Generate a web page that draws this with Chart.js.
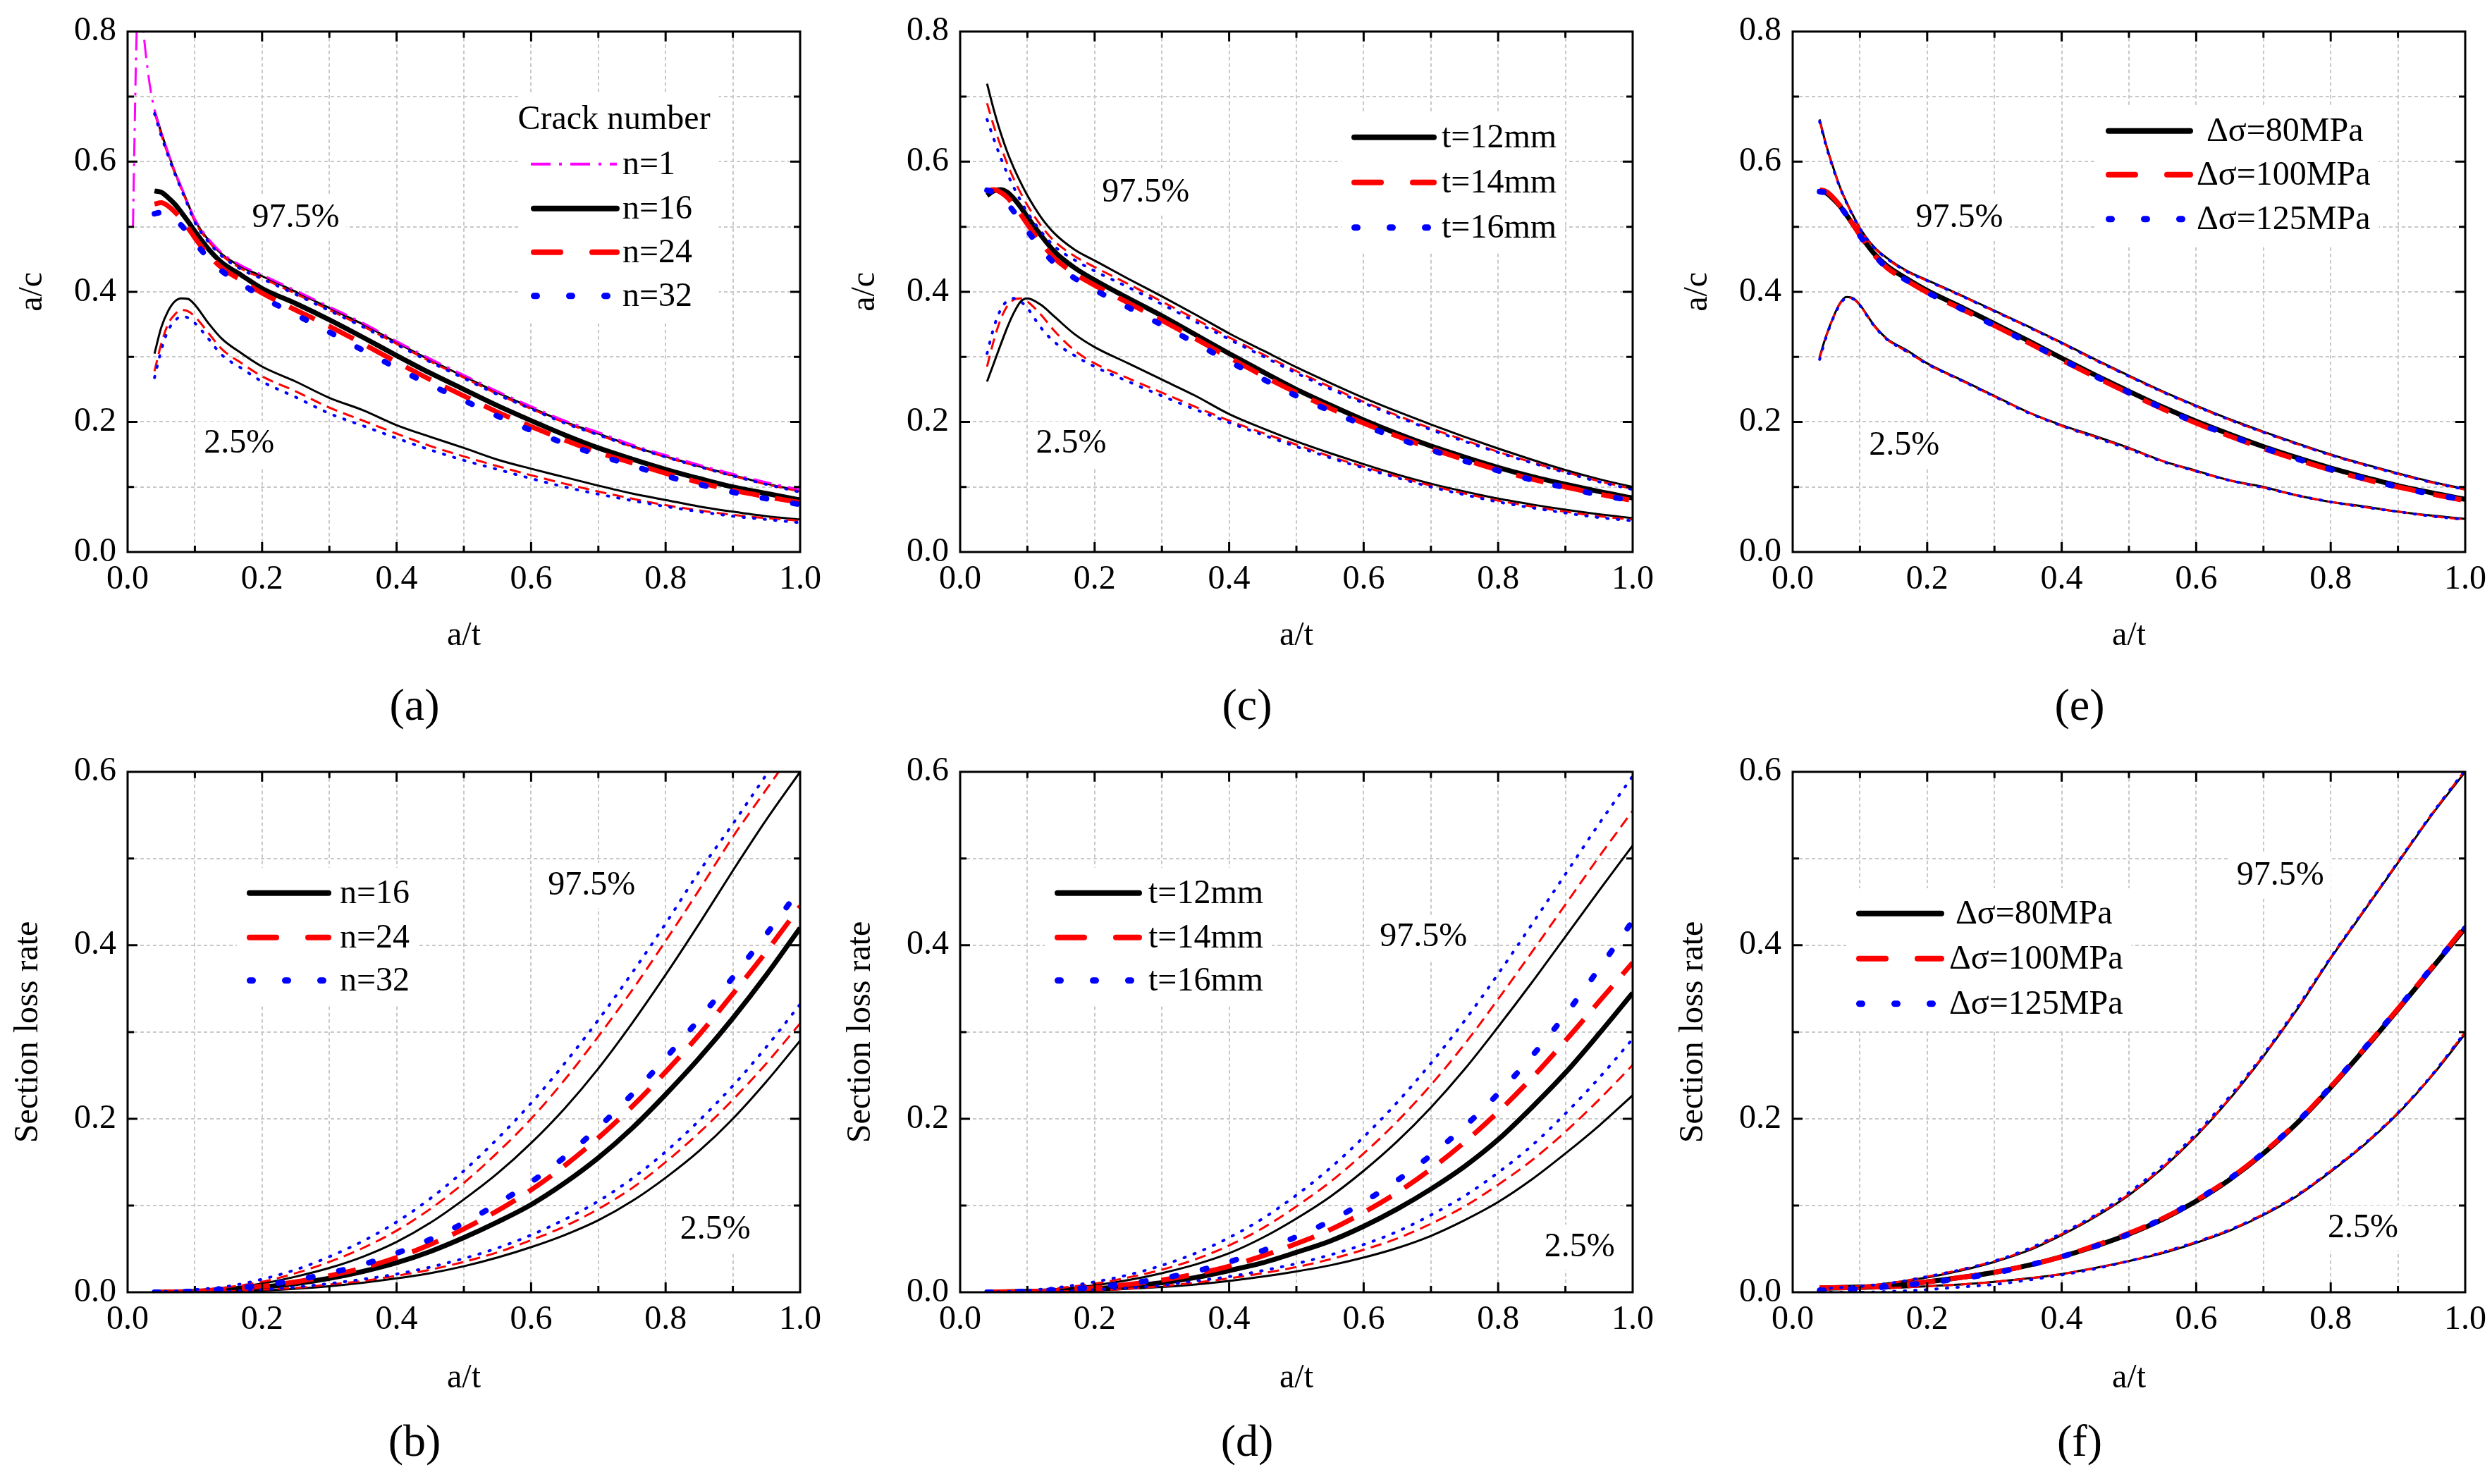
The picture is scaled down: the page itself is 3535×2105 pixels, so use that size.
<!DOCTYPE html>
<html>
<head>
<meta charset="utf-8">
<script src="https://cdn.jsdelivr.net/npm/chart.js@4"></script>
<style>
  body { margin: 0; background: #fff; }
  #page { position: relative; width: 3535px; height: 2105px; background: #fff; }
  canvas { position: absolute; }
  .tag { position: absolute; font-family: "Liberation Serif", "Times New Roman", serif; font-size: 64px; line-height: 1; transform: translate(-50%, -50%); color: #000; }
</style>
</head>
<body>
<div id="page">
  <canvas id="pa" width="1181" height="960" style="left:0px;top:0px"></canvas>
  <canvas id="pc" width="1181" height="960" style="left:1181px;top:0px"></canvas>
  <canvas id="pe" width="1181" height="960" style="left:2362px;top:0px"></canvas>
  <canvas id="pb" width="1181" height="960" style="left:0px;top:1050px"></canvas>
  <canvas id="pd" width="1181" height="960" style="left:1181px;top:1050px"></canvas>
  <canvas id="pf" width="1181" height="960" style="left:2362px;top:1050px"></canvas>
  <div class="tag" style="left:588px;top:1000px">(a)</div>
  <div class="tag" style="left:1769px;top:1000px">(c)</div>
  <div class="tag" style="left:2950px;top:1000px">(e)</div>
  <div class="tag" style="left:588px;top:2044px">(b)</div>
  <div class="tag" style="left:1769px;top:2044px">(d)</div>
  <div class="tag" style="left:2950px;top:2044px">(f)</div>
</div>

<script>
// ======================================================
// Data
// ======================================================

// a/t sampling for the a/c panels and for the section loss panels
const XT = [0.04, 0.05, 0.06, 0.07, 0.08, 0.09, 0.10, 0.12, 0.14, 0.17, 0.20, 0.25, 0.30, 0.35, 0.40,
            0.45, 0.50, 0.55, 0.60, 0.65, 0.70, 0.75, 0.80, 0.85, 0.90, 0.95, 1.00];
const XB = [0.04, 0.10, 0.15, 0.20, 0.25, 0.30, 0.35, 0.40, 0.45, 0.50, 0.55, 0.60, 0.65, 0.70, 0.75,
            0.80, 0.85, 0.90, 0.95, 1.00];

// legend labels
const LEG_A = ["n=1", "n=16", "n=24", "n=32"];
const LEG_C = ["t=12mm", "t=14mm", "t=16mm"];
const LEG_E = ["\u0394\u03c3=80MPa", "\u0394\u03c3=100MPa", "\u0394\u03c3=125MPa"];
const LEG_TITLE_A = "Crack number";
const NOTE_HI = "97.5%";
const NOTE_LO = "2.5%";

// ---- (a) a/c, crack number ----
const N1_HX = [0.008, 0.010, 0.013, 0.016, 0.020, 0.025, 0.030, 0.035];
const N1_HY = [0.50, 0.62, 0.78, 0.86, 0.84, 0.785, 0.74, 0.705];
const A_N1 = [0.680, 0.646, 0.615, 0.586, 0.561, 0.536, 0.512, 0.482, 0.460, 0.440, 0.426, 0.402, 0.377, 0.352, 0.324,
              0.297, 0.272, 0.247, 0.224, 0.202, 0.184, 0.165, 0.149, 0.134, 0.120, 0.107, 0.096];
const A_UP_16 = [0.679, 0.645, 0.614, 0.585, 0.560, 0.535, 0.510, 0.480, 0.458, 0.438, 0.424, 0.400, 0.375, 0.350, 0.322,
                 0.295, 0.270, 0.245, 0.222, 0.200, 0.182, 0.163, 0.147, 0.132, 0.118, 0.105, 0.094];
const A_UP_24 = [0.676, 0.642, 0.611, 0.583, 0.558, 0.533, 0.508, 0.478, 0.456, 0.435, 0.421, 0.397, 0.372, 0.347, 0.320,
                 0.293, 0.268, 0.243, 0.220, 0.199, 0.180, 0.162, 0.146, 0.131, 0.117, 0.104, 0.093];
const A_UP_32 = [0.674, 0.640, 0.610, 0.582, 0.557, 0.532, 0.507, 0.477, 0.455, 0.434, 0.420, 0.396, 0.371, 0.346, 0.319,
                 0.292, 0.267, 0.242, 0.220, 0.198, 0.180, 0.162, 0.146, 0.131, 0.117, 0.104, 0.092];
const A_MED_16 = [0.555, 0.553, 0.545, 0.535, 0.522, 0.508, 0.493, 0.466, 0.445, 0.425, 0.405, 0.382, 0.357, 0.330, 0.302,
                  0.275, 0.250, 0.225, 0.202, 0.180, 0.160, 0.143, 0.127, 0.113, 0.100, 0.090, 0.080];
const A_MED_24 = [0.535, 0.537, 0.532, 0.523, 0.512, 0.498, 0.483, 0.457, 0.437, 0.417, 0.398, 0.372, 0.347, 0.320, 0.292,
                  0.265, 0.240, 0.215, 0.193, 0.172, 0.153, 0.137, 0.121, 0.107, 0.095, 0.085, 0.076];
const A_MED_32 = [0.520, 0.522, 0.520, 0.513, 0.502, 0.490, 0.476, 0.452, 0.432, 0.412, 0.392, 0.365, 0.338, 0.310, 0.283,
                  0.257, 0.233, 0.209, 0.187, 0.167, 0.149, 0.133, 0.117, 0.104, 0.092, 0.082, 0.073];
const A_LO_16 = [0.305, 0.345, 0.370, 0.385, 0.390, 0.389, 0.380, 0.352, 0.328, 0.305, 0.285, 0.262, 0.237, 0.218, 0.195,
                 0.177, 0.160, 0.142, 0.128, 0.115, 0.102, 0.090, 0.080, 0.070, 0.062, 0.055, 0.050];
const A_LO_24 = [0.278, 0.320, 0.350, 0.365, 0.372, 0.370, 0.362, 0.337, 0.312, 0.290, 0.270, 0.247, 0.222, 0.202, 0.182,
                 0.163, 0.147, 0.132, 0.118, 0.105, 0.093, 0.082, 0.072, 0.064, 0.057, 0.052, 0.048];
const A_LO_32 = [0.268, 0.310, 0.340, 0.355, 0.362, 0.360, 0.352, 0.328, 0.303, 0.282, 0.262, 0.238, 0.213, 0.194, 0.175,
                 0.157, 0.141, 0.127, 0.113, 0.100, 0.089, 0.079, 0.070, 0.062, 0.055, 0.050, 0.045];

// ---- (c) a/c, plate thickness ----
const C_UP_12 = [0.720, 0.680, 0.645, 0.615, 0.590, 0.568, 0.548, 0.515, 0.490, 0.465, 0.448, 0.420, 0.393, 0.365, 0.336,
                 0.310, 0.284, 0.260, 0.237, 0.216, 0.196, 0.177, 0.159, 0.142, 0.126, 0.112, 0.100];
const C_UP_14 = [0.690, 0.655, 0.625, 0.597, 0.573, 0.552, 0.533, 0.502, 0.478, 0.455, 0.438, 0.412, 0.385, 0.358, 0.330,
                 0.304, 0.278, 0.254, 0.231, 0.210, 0.190, 0.172, 0.154, 0.138, 0.123, 0.109, 0.097];
const C_UP_16 = [0.665, 0.635, 0.607, 0.582, 0.560, 0.540, 0.522, 0.493, 0.470, 0.449, 0.432, 0.407, 0.381, 0.354, 0.327,
                 0.301, 0.275, 0.251, 0.229, 0.208, 0.188, 0.170, 0.153, 0.137, 0.122, 0.108, 0.096];
const C_MED_12 = [0.548, 0.555, 0.557, 0.553, 0.543, 0.530, 0.515, 0.487, 0.462, 0.437, 0.418, 0.390, 0.363, 0.334, 0.305,
                  0.277, 0.250, 0.226, 0.203, 0.182, 0.163, 0.146, 0.130, 0.116, 0.104, 0.093, 0.083];
const C_MED_14 = [0.555, 0.557, 0.553, 0.545, 0.533, 0.519, 0.504, 0.476, 0.452, 0.428, 0.410, 0.383, 0.356, 0.328, 0.299,
                  0.271, 0.245, 0.221, 0.198, 0.178, 0.159, 0.142, 0.126, 0.112, 0.100, 0.089, 0.079];
const C_MED_16 = [0.556, 0.553, 0.546, 0.536, 0.523, 0.509, 0.494, 0.467, 0.444, 0.421, 0.403, 0.376, 0.349, 0.321, 0.293,
                  0.266, 0.240, 0.217, 0.195, 0.175, 0.157, 0.140, 0.125, 0.111, 0.099, 0.088, 0.079];
const C_LO_12 = [0.262, 0.290, 0.318, 0.345, 0.368, 0.385, 0.390, 0.380, 0.362, 0.335, 0.315, 0.290, 0.265, 0.240, 0.212,
                 0.190, 0.170, 0.152, 0.135, 0.119, 0.105, 0.093, 0.082, 0.073, 0.065, 0.058, 0.052];
const C_LO_14 = [0.285, 0.325, 0.357, 0.378, 0.388, 0.390, 0.385, 0.365, 0.340, 0.310, 0.290, 0.267, 0.245, 0.223, 0.202,
                 0.183, 0.165, 0.147, 0.131, 0.116, 0.102, 0.090, 0.079, 0.070, 0.062, 0.055, 0.050];
const C_LO_16 = [0.305, 0.345, 0.372, 0.386, 0.390, 0.385, 0.375, 0.345, 0.323, 0.302, 0.285, 0.262, 0.240, 0.219, 0.199,
                 0.180, 0.162, 0.145, 0.129, 0.114, 0.100, 0.088, 0.077, 0.068, 0.060, 0.053, 0.048];

// ---- (e) a/c, stress range ----
const E_UP_80 = [0.665, 0.625, 0.592, 0.562, 0.538, 0.517, 0.498, 0.470, 0.452, 0.432, 0.418, 0.395, 0.371, 0.347, 0.322,
                 0.296, 0.271, 0.247, 0.225, 0.204, 0.185, 0.167, 0.150, 0.135, 0.121, 0.108, 0.097];
const E_UP_100 = [0.663, 0.624, 0.591, 0.561, 0.537, 0.516, 0.497, 0.469, 0.451, 0.431, 0.417, 0.394, 0.370, 0.346, 0.321,
                  0.295, 0.270, 0.246, 0.224, 0.203, 0.184, 0.166, 0.149, 0.134, 0.120, 0.107, 0.096];
const E_UP_125 = [0.662, 0.623, 0.590, 0.561, 0.537, 0.516, 0.497, 0.469, 0.451, 0.431, 0.417, 0.394, 0.370, 0.346, 0.321,
                  0.295, 0.270, 0.246, 0.224, 0.203, 0.184, 0.166, 0.149, 0.134, 0.120, 0.107, 0.096];
const E_MED_80 = [0.555, 0.552, 0.543, 0.532, 0.518, 0.503, 0.488, 0.460, 0.440, 0.420, 0.402, 0.377, 0.351, 0.325, 0.298,
                  0.272, 0.247, 0.223, 0.201, 0.181, 0.162, 0.145, 0.129, 0.115, 0.102, 0.091, 0.081];
const E_MED_100 = [0.557, 0.554, 0.545, 0.533, 0.519, 0.503, 0.487, 0.458, 0.437, 0.417, 0.399, 0.374, 0.348, 0.322, 0.295,
                   0.269, 0.244, 0.220, 0.198, 0.178, 0.159, 0.142, 0.126, 0.112, 0.100, 0.089, 0.079];
const E_MED_125 = [0.554, 0.552, 0.544, 0.532, 0.518, 0.502, 0.486, 0.458, 0.437, 0.417, 0.399, 0.374, 0.348, 0.322, 0.296,
                   0.270, 0.245, 0.221, 0.199, 0.179, 0.160, 0.143, 0.127, 0.113, 0.100, 0.089, 0.080];
const E_LO_80 = [0.300, 0.333, 0.360, 0.382, 0.392, 0.390, 0.380, 0.350, 0.328, 0.310, 0.290, 0.265, 0.240, 0.215, 0.195,
                 0.178, 0.160, 0.140, 0.125, 0.110, 0.100, 0.087, 0.077, 0.070, 0.062, 0.056, 0.051];
const E_LO_100 = [0.298, 0.332, 0.360, 0.381, 0.391, 0.389, 0.379, 0.349, 0.327, 0.308, 0.289, 0.264, 0.239, 0.215, 0.194,
                  0.177, 0.159, 0.140, 0.124, 0.110, 0.099, 0.087, 0.077, 0.069, 0.062, 0.055, 0.050];
const E_LO_125 = [0.296, 0.331, 0.359, 0.380, 0.390, 0.389, 0.379, 0.349, 0.327, 0.308, 0.289, 0.264, 0.239, 0.214, 0.194,
                  0.176, 0.158, 0.139, 0.124, 0.110, 0.099, 0.087, 0.077, 0.069, 0.062, 0.055, 0.050];

// ---- (b) section loss rate, crack number ----
const B_UP_16 = [0.000, 0.002, 0.005, 0.010, 0.018, 0.028, 0.041, 0.058, 0.080, 0.107, 0.137, 0.172, 0.212, 0.258, 0.310,
                 0.366, 0.425, 0.486, 0.545, 0.600];
const B_UP_24 = [0.000, 0.002, 0.006, 0.012, 0.022, 0.035, 0.051, 0.071, 0.096, 0.126, 0.161, 0.200, 0.245, 0.295, 0.348,
                 0.405, 0.464, 0.525, 0.580, 0.635];
const B_UP_32 = [0.000, 0.003, 0.007, 0.015, 0.026, 0.041, 0.059, 0.081, 0.108, 0.140, 0.177, 0.218, 0.264, 0.314, 0.368,
                 0.425, 0.485, 0.540, 0.597, 0.655];
const B_MED_16 = [0.000, 0.001, 0.003, 0.006, 0.010, 0.016, 0.024, 0.034, 0.047, 0.063, 0.081, 0.101, 0.126, 0.155, 0.189,
                  0.228, 0.270, 0.316, 0.366, 0.420];
const B_MED_24 = [0.000, 0.001, 0.004, 0.007, 0.012, 0.019, 0.028, 0.040, 0.055, 0.073, 0.094, 0.118, 0.146, 0.178, 0.214,
                  0.254, 0.297, 0.344, 0.393, 0.445];
const B_MED_32 = [0.000, 0.001, 0.004, 0.008, 0.014, 0.022, 0.032, 0.045, 0.061, 0.080, 0.102, 0.127, 0.156, 0.190, 0.228,
                  0.270, 0.315, 0.363, 0.413, 0.465];
const B_LO_16 = [0.000, 0.000, 0.001, 0.002, 0.004, 0.007, 0.011, 0.016, 0.022, 0.030, 0.040, 0.052, 0.066, 0.083, 0.105,
                 0.132, 0.163, 0.200, 0.243, 0.290];
const B_LO_24 = [0.000, 0.000, 0.001, 0.003, 0.005, 0.009, 0.013, 0.019, 0.026, 0.035, 0.046, 0.060, 0.076, 0.096, 0.120,
                 0.150, 0.184, 0.222, 0.264, 0.310];
const B_LO_32 = [0.000, 0.000, 0.001, 0.003, 0.006, 0.010, 0.015, 0.021, 0.029, 0.039, 0.051, 0.066, 0.084, 0.105, 0.131,
                 0.162, 0.198, 0.238, 0.283, 0.332];

// ---- (d) section loss rate, plate thickness ----
const D_UP_12 = [0.000, 0.001, 0.004, 0.008, 0.014, 0.022, 0.032, 0.045, 0.063, 0.085, 0.110, 0.140, 0.174, 0.213, 0.257,
                 0.306, 0.357, 0.410, 0.463, 0.515];
const D_UP_14 = [0.000, 0.001, 0.005, 0.010, 0.017, 0.026, 0.038, 0.054, 0.074, 0.099, 0.127, 0.160, 0.197, 0.239, 0.286,
                 0.338, 0.392, 0.447, 0.502, 0.555];
const D_UP_16 = [0.000, 0.002, 0.006, 0.012, 0.020, 0.031, 0.045, 0.063, 0.085, 0.112, 0.143, 0.179, 0.219, 0.264, 0.313,
                 0.367, 0.424, 0.482, 0.540, 0.595];
const D_MED_12 = [0.000, 0.001, 0.002, 0.004, 0.007, 0.011, 0.017, 0.025, 0.034, 0.046, 0.059, 0.076, 0.096, 0.119, 0.145,
                  0.176, 0.213, 0.253, 0.298, 0.345];
const D_MED_14 = [0.000, 0.001, 0.002, 0.005, 0.009, 0.014, 0.021, 0.030, 0.042, 0.056, 0.072, 0.092, 0.115, 0.142, 0.173,
                  0.208, 0.247, 0.290, 0.335, 0.380];
const D_MED_16 = [0.000, 0.001, 0.003, 0.006, 0.010, 0.016, 0.024, 0.035, 0.048, 0.064, 0.082, 0.104, 0.129, 0.158, 0.191,
                  0.229, 0.272, 0.320, 0.373, 0.428];
const D_LO_12 = [0.000, 0.000, 0.001, 0.002, 0.004, 0.006, 0.009, 0.013, 0.018, 0.024, 0.031, 0.040, 0.051, 0.065, 0.083,
                 0.104, 0.130, 0.160, 0.192, 0.227];
const D_LO_14 = [0.000, 0.000, 0.001, 0.002, 0.004, 0.007, 0.011, 0.016, 0.022, 0.029, 0.038, 0.049, 0.062, 0.079, 0.099,
                 0.124, 0.152, 0.185, 0.222, 0.262];
const D_LO_16 = [0.000, 0.000, 0.001, 0.003, 0.005, 0.008, 0.013, 0.018, 0.025, 0.033, 0.043, 0.055, 0.070, 0.089, 0.111,
                 0.138, 0.169, 0.206, 0.247, 0.292];

// ---- (f) section loss rate, stress range ----
const F_UP_80 = [0.005, 0.007, 0.011, 0.017, 0.025, 0.035, 0.048, 0.066, 0.087, 0.112, 0.143, 0.180, 0.223, 0.272, 0.326,
                 0.385, 0.440, 0.495, 0.550, 0.600];
const F_UP_100 = [0.005, 0.007, 0.011, 0.018, 0.026, 0.036, 0.049, 0.067, 0.088, 0.113, 0.144, 0.181, 0.224, 0.273, 0.327,
                  0.386, 0.441, 0.496, 0.551, 0.602];
const F_UP_125 = [0.004, 0.007, 0.011, 0.018, 0.026, 0.036, 0.050, 0.068, 0.089, 0.115, 0.146, 0.183, 0.226, 0.274, 0.328,
                  0.386, 0.441, 0.496, 0.551, 0.602];
const F_MED_80 = [0.005, 0.006, 0.008, 0.012, 0.017, 0.023, 0.031, 0.041, 0.053, 0.067, 0.084, 0.105, 0.130, 0.160, 0.195,
                  0.236, 0.280, 0.326, 0.373, 0.420];
const F_MED_100 = [0.005, 0.006, 0.008, 0.012, 0.017, 0.023, 0.031, 0.041, 0.054, 0.068, 0.085, 0.106, 0.131, 0.161, 0.196,
                   0.237, 0.281, 0.327, 0.374, 0.422];
const F_MED_125 = [0.002, 0.004, 0.007, 0.011, 0.016, 0.022, 0.031, 0.041, 0.053, 0.067, 0.085, 0.106, 0.131, 0.161, 0.196,
                   0.237, 0.281, 0.327, 0.374, 0.420];
const F_LO_80 = [0.003, 0.004, 0.005, 0.007, 0.009, 0.012, 0.016, 0.021, 0.028, 0.036, 0.045, 0.057, 0.071, 0.089, 0.111,
                 0.139, 0.170, 0.206, 0.249, 0.298];
const F_LO_100 = [0.003, 0.004, 0.005, 0.007, 0.009, 0.012, 0.016, 0.021, 0.028, 0.036, 0.046, 0.058, 0.072, 0.090, 0.112,
                  0.140, 0.171, 0.207, 0.250, 0.300];
const F_LO_125 = [0.000, 0.000, 0.001, 0.003, 0.006, 0.009, 0.014, 0.020, 0.027, 0.036, 0.046, 0.058, 0.072, 0.090, 0.112,
                  0.140, 0.171, 0.207, 0.250, 0.300];


// ======================================================
// Styles
// ======================================================

const FONT = '"Liberation Serif", "Times New Roman", serif';
const FONT_SIZE = 48;

Chart.defaults.font.family = FONT;
Chart.defaults.font.size = FONT_SIZE;
Chart.defaults.color = "#000";

const STYLES = {
    blackThin:  { borderColor: "#000000", borderWidth: 3 },
    blackThick: { borderColor: "#000000", borderWidth: 7 },
    redThin:    { borderColor: "#ff0000", borderWidth: 3, borderDash: [16, 9] },
    redThick:   { borderColor: "#ff0000", borderWidth: 7, borderDash: [40, 22] },
    blueThin:   { borderColor: "#0000ff", borderWidth: 4, borderDash: [2, 13], borderCapStyle: "round" },
    blueThick:  { borderColor: "#0000ff", borderWidth: 8, borderDash: [6, 38], borderCapStyle: "round" },
    magenta:    { borderColor: "#ff00ff", borderWidth: 3, borderDash: [26, 10, 4, 10] }
};

// legend samples
const LEG_STYLES = {
    magenta: { color: "#ff00ff", width: 4, dash: [28, 12, 4, 12], cap: "butt" },
    black:   { color: "#000000", width: 8, dash: [], cap: "round" },
    red:     { color: "#ff0000", width: 8, dash: [38, 45], cap: "round" },
    blue:    { color: "#0000ff", width: 9, dash: [4, 46], cap: "round" }
};


// ======================================================
// Helpers
// ======================================================

function line(xs, ys, style) {
    return Object.assign({
        data: xs.map((x, i) => ({ x: x, y: ys[i] })),
        pointRadius: 0,
        fill: false,
        cubicInterpolationMode: "monotone",
        clip: 0
    }, STYLES[style]);
}

function evenLabel(v) {
    const k = Math.round(v * 10);
    return k % 2 === 0 ? (k / 10).toFixed(1) : "";
}

// frame, inward ticks, legend and the percentile notes
function decoPlugin(cfg) {
    return {
        id: "deco",
        beforeDatasetsDraw(chart) {
            const ctx = chart.ctx;
            const area = chart.chartArea;
            ctx.save();
            ctx.fillStyle = "#ffffff";
            ctx.font = FONT_SIZE + "px " + FONT;
            // legend box
            const lg = cfg.legend;
            let widest = 0;
            lg.labels.forEach((t, i) => {
                widest = Math.max(widest, ctx.measureText(t).width + (lg.textShift ? lg.textShift[i] : 0));
            });
            const y0 = area.top + (lg.title ? lg.titleY : lg.y[0]) - 36;
            const y1 = area.top + lg.y[lg.y.length - 1] + 36;
            let x1 = area.left + lg.textX + widest + 12;
            if (lg.title) x1 = Math.max(x1, area.left + lg.titleX + ctx.measureText(lg.title).width / 2 + 12);
            ctx.fillRect(area.left + lg.lineX0 - 14, y0, x1 - (area.left + lg.lineX0 - 14), y1 - y0);
            // note boxes
            cfg.notes.forEach(n => {
                const px = chart.scales.x.getPixelForValue(n.x);
                const py = chart.scales.y.getPixelForValue(n.y);
                const w = ctx.measureText(n.text).width;
                ctx.fillRect(px - w / 2 - 10, py - 32, w + 20, 64);
            });
            ctx.restore();
        },
        afterDatasetsDraw(chart) {
            const ctx = chart.ctx;
            const area = chart.chartArea;
            const xs = chart.scales.x;
            const ys = chart.scales.y;
            ctx.save();

            // notes
            ctx.font = FONT_SIZE + "px " + FONT;
            ctx.fillStyle = "#000";
            ctx.textAlign = "center";
            ctx.textBaseline = "middle";
            cfg.notes.forEach(n => {
                ctx.fillText(n.text, xs.getPixelForValue(n.x), ys.getPixelForValue(n.y));
            });

            // legend
            const lg = cfg.legend;
            if (lg.title) {
                ctx.fillText(lg.title, area.left + lg.titleX, area.top + lg.titleY);
            }
            ctx.textAlign = "left";
            lg.labels.forEach((t, i) => {
                const st = LEG_STYLES[lg.styles[i]];
                const y = area.top + lg.y[i];
                ctx.beginPath();
                ctx.strokeStyle = st.color;
                ctx.lineWidth = st.width;
                ctx.lineCap = st.cap;
                ctx.setLineDash(st.dash);
                ctx.moveTo(area.left + lg.lineX0 + (st.cap === "round" ? st.width / 2 : 0), y);
                ctx.lineTo(area.left + lg.lineX1, y);
                ctx.stroke();
                ctx.setLineDash([]);
                ctx.fillText(t, area.left + lg.textX + (lg.textShift ? lg.textShift[i] : 0), y + 2);
            });

            // frame
            ctx.strokeStyle = "#000";
            ctx.lineWidth = 3;
            ctx.lineCap = "butt";
            ctx.strokeRect(area.left, area.top, area.right - area.left, area.bottom - area.top);

            // inward ticks
            ctx.lineWidth = 3;
            ctx.beginPath();
            for (let k = 1; k < 10; k++) {
                const px = xs.getPixelForValue(k / 10);
                const len = k % 2 === 0 ? 14 : 9;
                ctx.moveTo(px, area.bottom); ctx.lineTo(px, area.bottom - len);
                ctx.moveTo(px, area.top); ctx.lineTo(px, area.top + len);
            }
            const ny = Math.round(ys.max * 10);
            for (let k = 1; k < ny; k++) {
                const py = ys.getPixelForValue(k / 10);
                const len = k % 2 === 0 ? 14 : 9;
                ctx.moveTo(area.left, py); ctx.lineTo(area.left + len, py);
                ctx.moveTo(area.right, py); ctx.lineTo(area.right - len, py);
            }
            ctx.stroke();
            ctx.restore();
        }
    };
}

function makePanel(id, p) {
    const ctx = document.getElementById(id).getContext("2d");
    return new Chart(ctx, {
        type: "line",
        data: { datasets: p.datasets },
        options: {
            responsive: false,
            devicePixelRatio: 1,
            animation: false,
            events: [],
            layout: { padding: { left: 0, right: 46, top: p.padTop, bottom: p.padBottom } },
            plugins: { legend: { display: false }, tooltip: { enabled: false } },
            scales: {
                x: {
                    type: "linear",
                    min: 0,
                    max: 1,
                    afterFit: s => { s.height = p.xHeight; },
                    ticks: { stepSize: 0.1, autoSkip: false, maxRotation: 0, padding: 11, callback: evenLabel },
                    grid: { color: "#c8c8c8", lineWidth: 2, drawTicks: false },
                    border: { display: false, dash: [5, 4] },
                    title: { display: true, text: "a/t", padding: { top: 4, bottom: 4 } }
                },
                y: {
                    type: "linear",
                    min: 0,
                    max: p.yMax,
                    afterFit: s => { s.width = 181; },
                    ticks: { stepSize: 0.1, autoSkip: false, padding: 16, callback: evenLabel },
                    grid: { color: "#c8c8c8", lineWidth: 2, drawTicks: false },
                    border: { display: false, dash: [5, 4] },
                    title: { display: true, text: p.yTitle, padding: { top: p.yTitlePad, bottom: 4 } }
                }
            }
        },
        plugins: [decoPlugin(p.deco)]
    });
}


// ======================================================
// Panels
// ======================================================

const TOP = { yMax: 0.8, yTitle: "a/c", yTitlePad: 18, padTop: 39, padBottom: 25, xHeight: 152 };
const BOT = { yMax: 0.6, yTitle: "Section loss rate", yTitlePad: 12, padTop: 38, padBottom: 22, xHeight: 155 };

// (a)
makePanel("pa", Object.assign({}, TOP, {
    datasets: [
        line(XT, A_UP_32, "blueThin"), line(XT, A_MED_32, "blueThick"), line(XT, A_LO_32, "blueThin"),
        line(N1_HX.concat(XT), N1_HY.concat(A_N1), "magenta"),
        line(XT, A_UP_24, "redThin"), line(XT, A_MED_24, "redThick"), line(XT, A_LO_24, "redThin"),
        line(XT, A_UP_16, "blackThin"), line(XT, A_MED_16, "blackThick"), line(XT, A_LO_16, "blackThin")
    ],
    deco: {
        legend: { title: LEG_TITLE_A, titleX: 690, titleY: 126, labels: LEG_A,
                  styles: ["magenta", "black", "red", "blue"],
                  lineX0: 572, lineX1: 694, textX: 702, y: [188, 251, 313, 375] },
        notes: [{ text: NOTE_HI, x: 0.25, y: 0.513 }, { text: NOTE_LO, x: 0.166, y: 0.166 }]
    }
}));

// (c)
makePanel("pc", Object.assign({}, TOP, {
    datasets: [
        line(XT, C_UP_16, "blueThin"), line(XT, C_MED_16, "blueThick"), line(XT, C_LO_16, "blueThin"),
        line(XT, C_UP_14, "redThin"), line(XT, C_MED_14, "redThick"), line(XT, C_LO_14, "redThin"),
        line(XT, C_UP_12, "blackThin"), line(XT, C_MED_12, "blackThick"), line(XT, C_LO_12, "blackThin")
    ],
    deco: {
        legend: { labels: LEG_C, styles: ["black", "red", "blue"],
                  lineX0: 555, lineX1: 672, textX: 683, y: [150, 214, 278] },
        notes: [{ text: NOTE_HI, x: 0.276, y: 0.552 }, { text: NOTE_LO, x: 0.165, y: 0.166 }]
    }
}));

// (e)
makePanel("pe", Object.assign({}, TOP, {
    datasets: [
        line(XT, E_UP_125, "blueThin"), line(XT, E_MED_125, "blueThick"), line(XT, E_LO_125, "blueThin"),
        line(XT, E_UP_100, "redThin"), line(XT, E_MED_100, "redThick"), line(XT, E_LO_100, "redThin"),
        line(XT, E_UP_80, "blackThin"), line(XT, E_MED_80, "blackThick"), line(XT, E_LO_80, "blackThin")
    ],
    deco: {
        legend: { labels: LEG_E, styles: ["black", "red", "blue"], textShift: [14, 0, 0],
                  lineX0: 444, lineX1: 564, textX: 573, y: [141, 203, 266] },
        notes: [{ text: NOTE_HI, x: 0.248, y: 0.513 }, { text: NOTE_LO, x: 0.166, y: 0.163 }]
    }
}));

// (b)
makePanel("pb", Object.assign({}, BOT, {
    datasets: [
        line(XB, B_UP_32, "blueThin"), line(XB, B_MED_32, "blueThick"), line(XB, B_LO_32, "blueThin"),
        line(XB, B_UP_24, "redThin"), line(XB, B_MED_24, "redThick"), line(XB, B_LO_24, "redThin"),
        line(XB, B_UP_16, "blackThin"), line(XB, B_MED_16, "blackThick"), line(XB, B_LO_16, "blackThin")
    ],
    deco: {
        legend: { labels: LEG_A.slice(1), styles: ["black", "red", "blue"],
                  lineX0: 169, lineX1: 285, textX: 301, y: [172, 235, 296] },
        notes: [{ text: NOTE_HI, x: 0.69, y: 0.469 }, { text: NOTE_LO, x: 0.874, y: 0.072 }]
    }
}));

// (d)
makePanel("pd", Object.assign({}, BOT, {
    datasets: [
        line(XB, D_UP_16, "blueThin"), line(XB, D_MED_16, "blueThick"), line(XB, D_LO_16, "blueThin"),
        line(XB, D_UP_14, "redThin"), line(XB, D_MED_14, "redThick"), line(XB, D_LO_14, "redThin"),
        line(XB, D_UP_12, "blackThin"), line(XB, D_MED_12, "blackThick"), line(XB, D_LO_12, "blackThin")
    ],
    deco: {
        legend: { labels: LEG_C, styles: ["black", "red", "blue"],
                  lineX0: 134, lineX1: 254, textX: 267, y: [172, 235, 296] },
        notes: [{ text: NOTE_HI, x: 0.689, y: 0.409 }, { text: NOTE_LO, x: 0.921, y: 0.052 }]
    }
}));

// (f)
makePanel("pf", Object.assign({}, BOT, {
    datasets: [
        line(XB, F_UP_125, "blueThin"), line(XB, F_MED_125, "blueThick"), line(XB, F_LO_125, "blueThin"),
        line(XB, F_UP_100, "redThin"), line(XB, F_MED_100, "redThick"), line(XB, F_LO_100, "redThin"),
        line(XB, F_UP_80, "blackThin"), line(XB, F_MED_80, "blackThick"), line(XB, F_LO_80, "blackThin")
    ],
    deco: {
        legend: { labels: LEG_E, styles: ["black", "red", "blue"], textShift: [9, 0, 0],
                  lineX0: 90, lineX1: 211, textX: 222, y: [201, 265, 329] },
        notes: [{ text: NOTE_HI, x: 0.725, y: 0.48 }, { text: NOTE_LO, x: 0.848, y: 0.074 }]
    }
}));
</script>
</body>
</html>
